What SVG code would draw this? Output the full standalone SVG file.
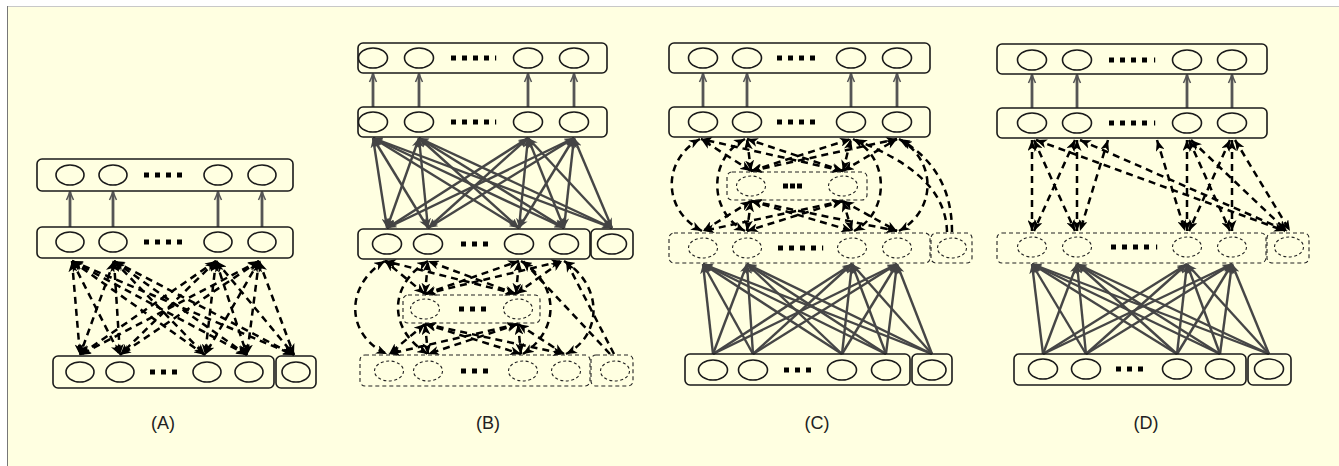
<svg xmlns="http://www.w3.org/2000/svg" width="1339" height="466" viewBox="0 0 1339 466">
<style>
.sb{fill:none;stroke:#1a1a1a;stroke-width:1.6}
.db{fill:none;stroke:#222;stroke-width:1.1;stroke-dasharray:4 3}
.n{fill:none;stroke:#1a1a1a;stroke-width:1.6}
.dn{fill:none;stroke:#222;stroke-width:1.1;stroke-dasharray:3 2.5}
.dot{fill:#000}
.va{stroke:#555;stroke-width:2.8;marker-end:url(#vE)}
.sl{stroke:#464646;stroke-width:2.4;fill:none}
.sl1{marker-end:url(#gE)}
.sl2{marker-start:url(#gS);marker-end:url(#gE)}
.dl{stroke:#000;stroke-width:2.5;stroke-dasharray:7 5;fill:none}
.bi{marker-start:url(#kS);marker-end:url(#kE)}
.uni{marker-end:url(#kE)}
.lbl{font-family:"Liberation Sans",Arial,sans-serif;font-size:18px;fill:#222;text-anchor:middle}
</style>
<defs>
<marker id="kE" viewBox="0 0 11 9" refX="11" refY="4.5" markerWidth="11" markerHeight="9" markerUnits="userSpaceOnUse" orient="auto"><path d="M0,0 L11,4.5 L0,9 L3,4.5 z" fill="#000"/></marker>
<marker id="kS" viewBox="0 0 11 9" refX="0" refY="4.5" markerWidth="11" markerHeight="9" markerUnits="userSpaceOnUse" orient="auto"><path d="M11,0 L0,4.5 L11,9 L8,4.5 z" fill="#000"/></marker>
<marker id="gE" viewBox="0 0 10 8" refX="10" refY="4" markerWidth="10" markerHeight="8" markerUnits="userSpaceOnUse" orient="auto"><path d="M0,0 L10,4 L0,8 L3,4 z" fill="#444"/></marker>
<marker id="gS" viewBox="0 0 10 8" refX="0" refY="4" markerWidth="10" markerHeight="8" markerUnits="userSpaceOnUse" orient="auto"><path d="M10,0 L0,4 L10,8 L7,4 z" fill="#444"/></marker>
<marker id="vE" viewBox="0 0 10 10" refX="9" refY="5" markerWidth="10" markerHeight="10" markerUnits="userSpaceOnUse" orient="auto"><path d="M1,1.5 L9,5 L1,8.5" fill="none" stroke="#555" stroke-width="1.5"/></marker>
</defs>
<rect x="0" y="0" width="1339" height="466" fill="#fff"/>
<rect x="8" y="7" width="1331" height="459" fill="#FFFFE1"/>
<line x1="7" y1="6.5" x2="1339" y2="6.5" stroke="#c8c8c8" stroke-width="1"/>
<line x1="7.5" y1="6" x2="7.5" y2="466" stroke="#777" stroke-width="1"/>

<g id="connectors">
 <g id="conn-A">
  <g class="va">
   <line x1="70" y1="227" x2="70" y2="192"/><line x1="113" y1="227" x2="113" y2="192"/><line x1="218" y1="227" x2="218" y2="192"/><line x1="262" y1="227" x2="262" y2="192"/>
  </g>
  <g class="dl bi">
   <line x1="72" y1="261" x2="80" y2="355"/><line x1="72" y1="261" x2="120" y2="355"/><line x1="72" y1="261" x2="205" y2="355"/><line x1="72" y1="261" x2="247" y2="355"/><line x1="72" y1="261" x2="294" y2="355"/>
   <line x1="114" y1="261" x2="80" y2="355"/><line x1="114" y1="261" x2="120" y2="355"/><line x1="114" y1="261" x2="205" y2="355"/><line x1="114" y1="261" x2="247" y2="355"/><line x1="114" y1="261" x2="294" y2="355"/>
   <line x1="216" y1="261" x2="80" y2="355"/><line x1="216" y1="261" x2="120" y2="355"/><line x1="216" y1="261" x2="205" y2="355"/><line x1="216" y1="261" x2="247" y2="355"/><line x1="216" y1="261" x2="294" y2="355"/>
   <line x1="259" y1="261" x2="80" y2="355"/><line x1="259" y1="261" x2="120" y2="355"/><line x1="259" y1="261" x2="205" y2="355"/><line x1="259" y1="261" x2="247" y2="355"/><line x1="259" y1="261" x2="294" y2="355"/>
  </g>
 </g>
 <g id="conn-B">
  <g class="va">
   <line x1="373" y1="107" x2="373" y2="74"/><line x1="419" y1="107" x2="419" y2="74"/><line x1="528" y1="107" x2="528" y2="74"/><line x1="574" y1="107" x2="574" y2="74"/>
  </g>
  <g class="sl sl2">
   <line x1="387" y1="228" x2="373" y2="138"/><line x1="387" y1="228" x2="419" y2="138"/><line x1="387" y1="228" x2="528" y2="138"/><line x1="387" y1="228" x2="574" y2="138"/>
   <line x1="428" y1="228" x2="373" y2="138"/><line x1="428" y1="228" x2="419" y2="138"/><line x1="428" y1="228" x2="528" y2="138"/><line x1="428" y1="228" x2="574" y2="138"/>
   <line x1="519" y1="228" x2="373" y2="138"/><line x1="519" y1="228" x2="419" y2="138"/><line x1="519" y1="228" x2="528" y2="138"/><line x1="519" y1="228" x2="574" y2="138"/>
   <line x1="564" y1="228" x2="373" y2="138"/><line x1="564" y1="228" x2="419" y2="138"/><line x1="564" y1="228" x2="528" y2="138"/><line x1="564" y1="228" x2="574" y2="138"/>
   <line x1="612" y1="228" x2="373" y2="138"/><line x1="612" y1="228" x2="419" y2="138"/><line x1="612" y1="228" x2="528" y2="138"/><line x1="612" y1="228" x2="574" y2="138"/>
  </g>
  <g class="dl bi">
   <path d="M385,261 C345,285 345,335 387,354"/>
   <path d="M428,261 C388,285 388,330 428,354"/>
   <path d="M521,261 C560,285 560,330 523,354"/>
   <path d="M564,261 C603,285 603,335 566,354"/>
   <line x1="425" y1="294" x2="385" y2="261"/><line x1="425" y1="294" x2="428" y2="261"/><line x1="425" y1="294" x2="519" y2="261"/><line x1="425" y1="294" x2="562" y2="261"/>
   <line x1="516" y1="294" x2="385" y2="261"/><line x1="516" y1="294" x2="428" y2="261"/><line x1="516" y1="294" x2="519" y2="261"/><line x1="516" y1="294" x2="562" y2="261"/>
   <line x1="425" y1="324" x2="389" y2="354"/><line x1="425" y1="324" x2="428" y2="354"/><line x1="425" y1="324" x2="521" y2="354"/><line x1="425" y1="324" x2="564" y2="354"/>
   <line x1="518" y1="324" x2="389" y2="354"/><line x1="518" y1="324" x2="428" y2="354"/><line x1="518" y1="324" x2="521" y2="354"/><line x1="518" y1="324" x2="564" y2="354"/>
  </g>
  <g class="dl uni">
   <line x1="614" y1="354" x2="566" y2="261"/><line x1="610" y1="354" x2="523" y2="261"/>
  </g>
 </g>
 <g id="conn-C">
  <g class="va">
   <line x1="703" y1="107" x2="703" y2="74"/><line x1="747" y1="107" x2="747" y2="74"/><line x1="851" y1="107" x2="851" y2="74"/><line x1="897" y1="107" x2="897" y2="74"/>
  </g>
  <g class="sl sl1">
   <line x1="713" y1="354" x2="703" y2="264"/><line x1="713" y1="354" x2="747" y2="264"/><line x1="713" y1="354" x2="852" y2="264"/><line x1="713" y1="354" x2="897" y2="264"/>
   <line x1="753" y1="354" x2="703" y2="264"/><line x1="753" y1="354" x2="747" y2="264"/><line x1="753" y1="354" x2="852" y2="264"/><line x1="753" y1="354" x2="897" y2="264"/>
   <line x1="842" y1="354" x2="703" y2="264"/><line x1="842" y1="354" x2="747" y2="264"/><line x1="842" y1="354" x2="852" y2="264"/><line x1="842" y1="354" x2="897" y2="264"/>
   <line x1="886" y1="354" x2="703" y2="264"/><line x1="886" y1="354" x2="747" y2="264"/><line x1="886" y1="354" x2="852" y2="264"/><line x1="886" y1="354" x2="897" y2="264"/>
   <line x1="932" y1="354" x2="703" y2="264"/><line x1="932" y1="354" x2="747" y2="264"/><line x1="932" y1="354" x2="852" y2="264"/><line x1="932" y1="354" x2="897" y2="264"/>
  </g>
  <g class="dl bi">
   <path d="M700,139 C662,160 662,210 702,231"/>
   <path d="M745,139 C708,158 708,212 745,231"/>
   <path d="M853,139 C890,158 890,212 854,231"/>
   <path d="M899,139 C937,160 937,210 899,231"/>
   <line x1="751" y1="171" x2="701" y2="139"/><line x1="751" y1="171" x2="747" y2="139"/><line x1="751" y1="171" x2="851" y2="139"/><line x1="751" y1="171" x2="897" y2="139"/>
   <line x1="843" y1="171" x2="701" y2="139"/><line x1="843" y1="171" x2="747" y2="139"/><line x1="843" y1="171" x2="851" y2="139"/><line x1="843" y1="171" x2="897" y2="139"/>
   <line x1="751" y1="201" x2="703" y2="231"/><line x1="751" y1="201" x2="747" y2="231"/><line x1="751" y1="201" x2="852" y2="231"/><line x1="751" y1="201" x2="897" y2="231"/>
   <line x1="843" y1="201" x2="703" y2="231"/><line x1="843" y1="201" x2="747" y2="231"/><line x1="843" y1="201" x2="852" y2="231"/><line x1="843" y1="201" x2="897" y2="231"/>
  </g>
  <g class="dl uni">
   <path d="M952,232 C952,190 935,160 901,140"/>
   <path d="M947,232 C946,186 905,160 856,140"/>
  </g>
 </g>
 <g id="conn-D">
  <g class="va">
   <line x1="1032" y1="108" x2="1032" y2="75"/><line x1="1077" y1="108" x2="1077" y2="75"/><line x1="1187" y1="108" x2="1187" y2="75"/><line x1="1232" y1="108" x2="1232" y2="75"/>
  </g>
  <g class="sl sl1">
   <line x1="1043" y1="354" x2="1032" y2="264"/><line x1="1043" y1="354" x2="1077" y2="264"/><line x1="1043" y1="354" x2="1187" y2="264"/><line x1="1043" y1="354" x2="1232" y2="264"/>
   <line x1="1086" y1="354" x2="1032" y2="264"/><line x1="1086" y1="354" x2="1077" y2="264"/><line x1="1086" y1="354" x2="1187" y2="264"/><line x1="1086" y1="354" x2="1232" y2="264"/>
   <line x1="1177" y1="354" x2="1032" y2="264"/><line x1="1177" y1="354" x2="1077" y2="264"/><line x1="1177" y1="354" x2="1187" y2="264"/><line x1="1177" y1="354" x2="1232" y2="264"/>
   <line x1="1220" y1="354" x2="1032" y2="264"/><line x1="1220" y1="354" x2="1077" y2="264"/><line x1="1220" y1="354" x2="1187" y2="264"/><line x1="1220" y1="354" x2="1232" y2="264"/>
   <line x1="1269" y1="354" x2="1032" y2="264"/><line x1="1269" y1="354" x2="1077" y2="264"/><line x1="1269" y1="354" x2="1187" y2="264"/><line x1="1269" y1="354" x2="1232" y2="264"/>
  </g>
  <g class="dl bi">
   <line x1="1032" y1="140" x2="1032" y2="231"/>
   <line x1="1034" y1="140" x2="1075" y2="231"/>
   <line x1="1075" y1="140" x2="1034" y2="231"/>
   <line x1="1077" y1="140" x2="1077" y2="231"/>
   <line x1="1036" y1="140" x2="1285" y2="231"/>
   <line x1="1080" y1="140" x2="1287" y2="231"/>
   <line x1="1108" y1="140" x2="1080" y2="231"/>
   <line x1="1157" y1="140" x2="1185" y2="231"/>
   <line x1="1187" y1="140" x2="1187" y2="231"/>
   <line x1="1189" y1="140" x2="1230" y2="231"/>
   <line x1="1230" y1="140" x2="1189" y2="231"/>
   <line x1="1232" y1="140" x2="1232" y2="231"/>
   <line x1="1191" y1="140" x2="1287" y2="231"/>
   <line x1="1235" y1="140" x2="1290" y2="231"/>
  </g>
 </g>
</g>

<g id="A-output">
 <rect class="sb" x="37" y="159" width="256" height="32" rx="5"/>
 <ellipse class="n" cx="70" cy="175" rx="14" ry="10"/><ellipse class="n" cx="113" cy="175" rx="14" ry="10"/><ellipse class="n" cx="218" cy="175" rx="14" ry="10"/><ellipse class="n" cx="262" cy="175" rx="14" ry="10"/>
 <rect class="dot" x="144" y="172.5" width="5" height="5"/><rect class="dot" x="155" y="172.5" width="5" height="5"/><rect class="dot" x="166" y="172.5" width="5" height="5"/><rect class="dot" x="177" y="172.5" width="5" height="5"/>
</g>
<g id="A-hidden">
 <rect class="sb" x="37" y="227" width="256" height="31" rx="5"/>
 <ellipse class="n" cx="70" cy="242" rx="14" ry="10"/><ellipse class="n" cx="113" cy="242" rx="14" ry="10"/><ellipse class="n" cx="218" cy="242" rx="14" ry="10"/><ellipse class="n" cx="262" cy="242" rx="14" ry="10"/>
 <rect class="dot" x="144" y="239.5" width="5" height="5"/><rect class="dot" x="155" y="239.5" width="5" height="5"/><rect class="dot" x="166" y="239.5" width="5" height="5"/><rect class="dot" x="177" y="239.5" width="5" height="5"/>
</g>
<g id="A-visible">
 <rect class="sb" x="53" y="356" width="221" height="32" rx="5"/>
 <rect class="sb" x="276" y="356" width="40" height="32" rx="5"/>
 <ellipse class="n" cx="80" cy="372" rx="14" ry="10"/><ellipse class="n" cx="120" cy="372" rx="14" ry="10"/><ellipse class="n" cx="207" cy="372" rx="14" ry="10"/><ellipse class="n" cx="249" cy="372" rx="14" ry="10"/><ellipse class="n" cx="296" cy="372" rx="14" ry="10"/>
 <rect class="dot" x="150" y="369.5" width="5" height="5"/><rect class="dot" x="161" y="369.5" width="5" height="5"/><rect class="dot" x="172" y="369.5" width="5" height="5"/>
</g>

<g id="B-output">
 <rect class="sb" x="358" y="43" width="249" height="30" rx="5"/>
 <ellipse class="n" cx="373" cy="58" rx="14.5" ry="10"/><ellipse class="n" cx="419" cy="58" rx="14.5" ry="10"/><ellipse class="n" cx="528" cy="58" rx="14.5" ry="10"/><ellipse class="n" cx="574" cy="58" rx="14.5" ry="10"/>
 <rect class="dot" x="451" y="55.5" width="5" height="5"/><rect class="dot" x="462" y="55.5" width="5" height="5"/><rect class="dot" x="473" y="55.5" width="5" height="5"/><rect class="dot" x="484" y="55.5" width="5" height="5"/><rect class="dot" x="495" y="55.5" width="1.2" height="5"/>
</g>
<g id="B-second">
 <rect class="sb" x="358" y="107" width="249" height="30" rx="5"/>
 <ellipse class="n" cx="373" cy="122" rx="14.5" ry="10"/><ellipse class="n" cx="419" cy="122" rx="14.5" ry="10"/><ellipse class="n" cx="528" cy="122" rx="14.5" ry="10"/><ellipse class="n" cx="574" cy="122" rx="14.5" ry="10"/>
 <rect class="dot" x="451" y="119.5" width="5" height="5"/><rect class="dot" x="462" y="119.5" width="5" height="5"/><rect class="dot" x="473" y="119.5" width="5" height="5"/><rect class="dot" x="484" y="119.5" width="5" height="5"/><rect class="dot" x="495" y="119.5" width="1.2" height="5"/>
</g>
<g id="B-hidden">
 <rect class="sb" x="358" y="229" width="232" height="30" rx="5"/>
 <rect class="sb" x="591" y="229" width="42" height="30" rx="5"/>
 <ellipse class="n" cx="387" cy="244" rx="14.5" ry="10"/><ellipse class="n" cx="428" cy="244" rx="14.5" ry="10"/><ellipse class="n" cx="519" cy="244" rx="14.5" ry="10"/><ellipse class="n" cx="564" cy="244" rx="14.5" ry="10"/><ellipse class="n" cx="612" cy="244" rx="14.5" ry="10"/>
 <rect class="dot" x="461" y="241.5" width="5" height="5"/><rect class="dot" x="472" y="241.5" width="5" height="5"/><rect class="dot" x="483" y="241.5" width="5" height="5"/>
</g>
<g id="B-latent">
 <rect class="db" x="403" y="295" width="137" height="28" rx="5"/>
 <ellipse class="dn" cx="425" cy="309" rx="14.5" ry="10"/><ellipse class="dn" cx="518" cy="309" rx="14.5" ry="10"/>
 <rect class="dot" x="459" y="306.5" width="5" height="5"/><rect class="dot" x="470" y="306.5" width="5" height="5"/><rect class="dot" x="481" y="306.5" width="5" height="5"/>
</g>
<g id="B-visible">
 <rect class="db" x="360" y="355" width="230" height="31" rx="5"/>
 <rect class="db" x="591" y="355" width="42" height="31" rx="5"/>
 <ellipse class="dn" cx="389" cy="371" rx="14.5" ry="10"/><ellipse class="dn" cx="428" cy="371" rx="14.5" ry="10"/><ellipse class="dn" cx="523" cy="371" rx="14.5" ry="10"/><ellipse class="dn" cx="566" cy="371" rx="14.5" ry="10"/><ellipse class="dn" cx="615" cy="371" rx="14.5" ry="10"/>
 <rect class="dot" x="461" y="368.5" width="5" height="5"/><rect class="dot" x="472" y="368.5" width="5" height="5"/><rect class="dot" x="483" y="368.5" width="5" height="5"/>
</g>

<g id="C-output">
 <rect class="sb" x="669" y="43" width="261" height="30" rx="5"/>
 <ellipse class="n" cx="703" cy="58" rx="14.5" ry="10"/><ellipse class="n" cx="747" cy="58" rx="14.5" ry="10"/><ellipse class="n" cx="851" cy="58" rx="14.5" ry="10"/><ellipse class="n" cx="897" cy="58" rx="14.5" ry="10"/>
 <rect class="dot" x="777" y="55.5" width="5" height="5"/><rect class="dot" x="788" y="55.5" width="5" height="5"/><rect class="dot" x="799" y="55.5" width="5" height="5"/><rect class="dot" x="810" y="55.5" width="5" height="5"/>
</g>
<g id="C-hidden">
 <rect class="sb" x="669" y="107" width="261" height="30" rx="5"/>
 <ellipse class="n" cx="703" cy="122" rx="14.5" ry="10"/><ellipse class="n" cx="747" cy="122" rx="14.5" ry="10"/><ellipse class="n" cx="851" cy="122" rx="14.5" ry="10"/><ellipse class="n" cx="897" cy="122" rx="14.5" ry="10"/>
 <rect class="dot" x="777" y="119.5" width="5" height="5"/><rect class="dot" x="788" y="119.5" width="5" height="5"/><rect class="dot" x="799" y="119.5" width="5" height="5"/><rect class="dot" x="810" y="119.5" width="5" height="5"/>
</g>
<g id="C-latent">
 <rect class="db" x="727" y="172" width="140" height="28" rx="5"/>
 <ellipse class="dn" cx="751" cy="186" rx="14.5" ry="10"/><ellipse class="dn" cx="843" cy="186" rx="14.5" ry="10"/>
 <rect class="dot" x="783" y="183.5" width="5" height="5"/><rect class="dot" x="790" y="183.5" width="5" height="5"/><rect class="dot" x="797" y="183.5" width="5" height="5"/>
</g>
<g id="C-visible">
 <rect class="db" x="669" y="233" width="261" height="30" rx="5"/>
 <rect class="db" x="931" y="233" width="41" height="30" rx="5"/>
 <ellipse class="dn" cx="703" cy="248" rx="14.5" ry="10"/><ellipse class="dn" cx="747" cy="248" rx="14.5" ry="10"/><ellipse class="dn" cx="852" cy="248" rx="14.5" ry="10"/><ellipse class="dn" cx="897" cy="248" rx="14.5" ry="10"/><ellipse class="dn" cx="952" cy="248" rx="14.5" ry="10"/>
 <rect class="dot" x="778" y="245.5" width="5" height="5"/><rect class="dot" x="789" y="245.5" width="5" height="5"/><rect class="dot" x="800" y="245.5" width="5" height="5"/><rect class="dot" x="811" y="245.5" width="5" height="5"/><rect class="dot" x="822" y="245.5" width="1.2" height="5"/>
</g>
<g id="C-input">
 <rect class="sb" x="685" y="354" width="225" height="31" rx="5"/>
 <rect class="sb" x="912" y="354" width="40" height="31" rx="5"/>
 <ellipse class="n" cx="713" cy="370" rx="14.5" ry="10"/><ellipse class="n" cx="753" cy="370" rx="14.5" ry="10"/><ellipse class="n" cx="842" cy="370" rx="14.5" ry="10"/><ellipse class="n" cx="886" cy="370" rx="14.5" ry="10"/><ellipse class="n" cx="932" cy="370" rx="14" ry="10"/>
 <rect class="dot" x="784" y="367.5" width="5" height="5"/><rect class="dot" x="795" y="367.5" width="5" height="5"/><rect class="dot" x="806" y="367.5" width="5" height="5"/>
</g>

<g id="D-output">
 <rect class="sb" x="997" y="44" width="270" height="30" rx="5"/>
 <ellipse class="n" cx="1032" cy="60" rx="14.5" ry="10"/><ellipse class="n" cx="1077" cy="60" rx="14.5" ry="10"/><ellipse class="n" cx="1187" cy="60" rx="14.5" ry="10"/><ellipse class="n" cx="1232" cy="60" rx="14.5" ry="10"/>
 <rect class="dot" x="1109" y="57.5" width="5" height="5"/><rect class="dot" x="1120" y="57.5" width="5" height="5"/><rect class="dot" x="1131" y="57.5" width="5" height="5"/><rect class="dot" x="1142" y="57.5" width="5" height="5"/><rect class="dot" x="1154" y="57.5" width="1.2" height="5"/>
</g>
<g id="D-hidden">
 <rect class="sb" x="997" y="108" width="270" height="30" rx="5"/>
 <ellipse class="n" cx="1032" cy="123" rx="14.5" ry="10"/><ellipse class="n" cx="1077" cy="123" rx="14.5" ry="10"/><ellipse class="n" cx="1187" cy="123" rx="14.5" ry="10"/><ellipse class="n" cx="1232" cy="123" rx="14.5" ry="10"/>
 <rect class="dot" x="1109" y="120.5" width="5" height="5"/><rect class="dot" x="1120" y="120.5" width="5" height="5"/><rect class="dot" x="1131" y="120.5" width="5" height="5"/><rect class="dot" x="1142" y="120.5" width="5" height="5"/><rect class="dot" x="1154" y="120.5" width="1.2" height="5"/>
</g>
<g id="D-visible">
 <rect class="db" x="997" y="233" width="269" height="30" rx="5"/>
 <rect class="db" x="1267" y="233" width="42" height="30" rx="5"/>
 <ellipse class="dn" cx="1032" cy="247" rx="14.5" ry="10"/><ellipse class="dn" cx="1077" cy="247" rx="14.5" ry="10"/><ellipse class="dn" cx="1187" cy="247" rx="14.5" ry="10"/><ellipse class="dn" cx="1232" cy="247" rx="14.5" ry="10"/><ellipse class="dn" cx="1289" cy="247" rx="14.5" ry="10"/>
 <rect class="dot" x="1111" y="244.5" width="5" height="5"/><rect class="dot" x="1122" y="244.5" width="5" height="5"/><rect class="dot" x="1133" y="244.5" width="5" height="5"/><rect class="dot" x="1144" y="244.5" width="5" height="5"/><rect class="dot" x="1156" y="244.5" width="1.2" height="5"/>
</g>
<g id="D-input">
 <rect class="sb" x="1014" y="354" width="232" height="31" rx="5"/>
 <rect class="sb" x="1248" y="354" width="43" height="31" rx="5"/>
 <ellipse class="n" cx="1043" cy="369" rx="14.5" ry="10"/><ellipse class="n" cx="1086" cy="369" rx="14.5" ry="10"/><ellipse class="n" cx="1177" cy="369" rx="14.5" ry="10"/><ellipse class="n" cx="1220" cy="369" rx="14.5" ry="10"/><ellipse class="n" cx="1269" cy="369" rx="14.5" ry="10"/>
 <rect class="dot" x="1116" y="366.5" width="5" height="5"/><rect class="dot" x="1127" y="366.5" width="5" height="5"/><rect class="dot" x="1138" y="366.5" width="5" height="5"/>
</g>

<g id="labels">
 <text class="lbl" x="163" y="429">(A)</text>
 <text class="lbl" x="488" y="429">(B)</text>
 <text class="lbl" x="817" y="429">(C)</text>
 <text class="lbl" x="1146" y="429">(D)</text>
</g>
</svg>
